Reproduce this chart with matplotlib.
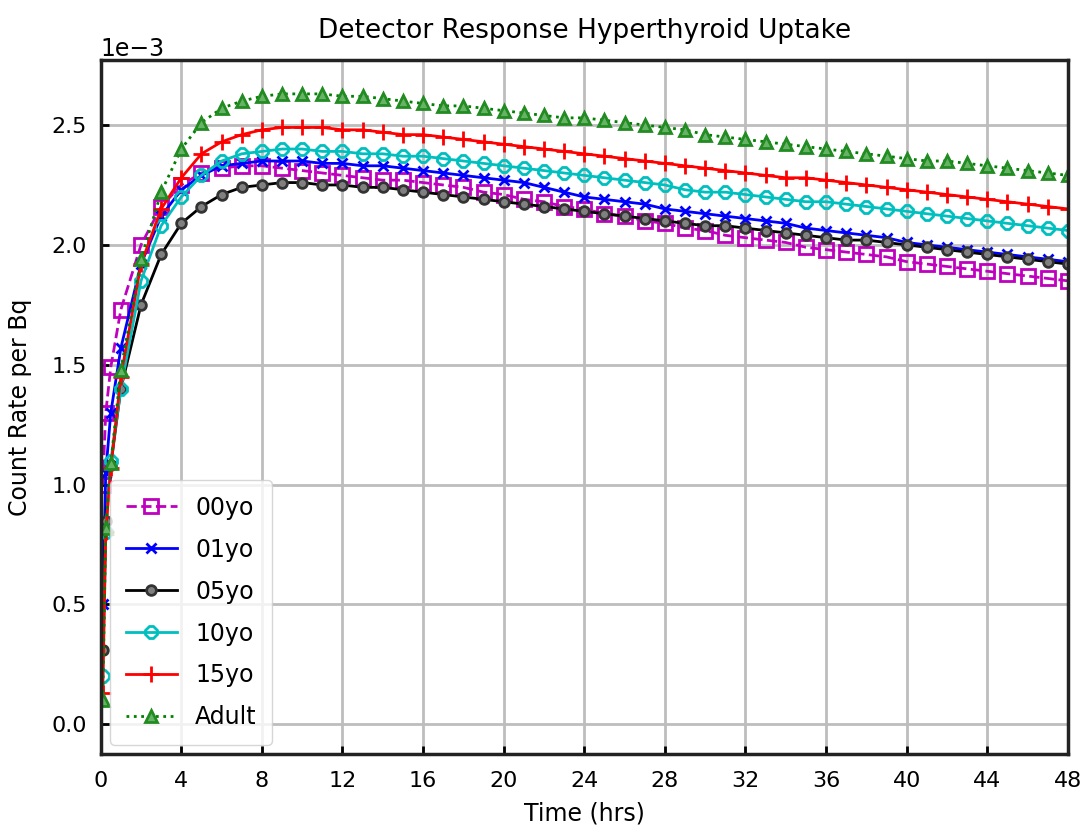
import numpy as np
import matplotlib
matplotlib.use("Agg")
import matplotlib.pyplot as plt

# sample times (hrs)
times = [0.1, 0.25, 0.5, 1] + list(range(2, 49))

# count rate per Bq (x1e-3) for each phantom age
yo00 = [1.00, 1.30, 1.49, 1.73,
        2.00, 2.16, 2.25, 2.30, 2.32, 2.33, 2.33, 2.32, 2.31, 2.30,
        2.29, 2.28, 2.27, 2.27, 2.26, 2.25, 2.24, 2.22, 2.21, 2.19,
        2.18, 2.16, 2.15, 2.13, 2.12, 2.10, 2.09, 2.07, 2.06, 2.04,
        2.03, 2.02, 2.01, 1.99, 1.98, 1.97, 1.96, 1.95, 1.93, 1.92,
        1.91, 1.90, 1.89, 1.88, 1.87, 1.86, 1.85]
yo01 = [0.50, 1.05, 1.30, 1.57,
        1.92, 2.12, 2.23, 2.29, 2.33, 2.34, 2.35, 2.35, 2.35, 2.34,
        2.34, 2.33, 2.33, 2.32, 2.31, 2.30, 2.29, 2.28, 2.27, 2.26,
        2.24, 2.22, 2.20, 2.19, 2.18, 2.17, 2.15, 2.14, 2.13, 2.12,
        2.11, 2.10, 2.09, 2.07, 2.06, 2.05, 2.04, 2.03, 2.01, 2.00,
        1.99, 1.98, 1.97, 1.96, 1.95, 1.94, 1.93]
yo05 = [0.31, 0.85, 1.08, 1.40,
        1.75, 1.96, 2.09, 2.16, 2.21, 2.24, 2.25, 2.26, 2.26, 2.25,
        2.25, 2.24, 2.24, 2.23, 2.22, 2.21, 2.20, 2.19, 2.18, 2.17,
        2.16, 2.15, 2.14, 2.13, 2.12, 2.11, 2.10, 2.09, 2.08, 2.08,
        2.07, 2.06, 2.05, 2.04, 2.03, 2.02, 2.02, 2.01, 2.00, 1.99,
        1.98, 1.97, 1.96, 1.95, 1.94, 1.93, 1.92]
yo10 = [0.20, 0.80, 1.10, 1.40,
        1.85, 2.08, 2.20, 2.29, 2.35, 2.38, 2.39, 2.40, 2.40, 2.39,
        2.39, 2.38, 2.38, 2.37, 2.37, 2.36, 2.35, 2.34, 2.33, 2.32,
        2.31, 2.30, 2.29, 2.28, 2.27, 2.26, 2.25, 2.23, 2.22, 2.22,
        2.21, 2.20, 2.19, 2.18, 2.18, 2.17, 2.16, 2.15, 2.14, 2.13,
        2.12, 2.11, 2.10, 2.09, 2.08, 2.07, 2.06]
yo15 = [0.13, 0.80, 1.07, 1.45,
        1.92, 2.15, 2.28, 2.38, 2.43, 2.46, 2.48, 2.49, 2.49, 2.49,
        2.48, 2.48, 2.47, 2.46, 2.46, 2.45, 2.44, 2.43, 2.42, 2.41,
        2.40, 2.39, 2.38, 2.37, 2.36, 2.35, 2.34, 2.33, 2.32, 2.31,
        2.30, 2.29, 2.28, 2.28, 2.27, 2.26, 2.25, 2.24, 2.23, 2.22,
        2.21, 2.20, 2.19, 2.18, 2.17, 2.16, 2.15]
adult = [0.10, 0.82, 1.09, 1.48,
         1.94, 2.22, 2.40, 2.51, 2.57, 2.60, 2.62, 2.63, 2.63, 2.63,
         2.62, 2.62, 2.61, 2.60, 2.59, 2.58, 2.58, 2.57, 2.56, 2.55,
         2.54, 2.53, 2.53, 2.52, 2.51, 2.50, 2.49, 2.48, 2.46, 2.45,
         2.44, 2.43, 2.42, 2.41, 2.40, 2.39, 2.38, 2.37, 2.36, 2.35,
         2.35, 2.34, 2.33, 2.32, 2.31, 2.30, 2.29]

t = np.array(times)
scale = 1e-3

fig, ax = plt.subplots(figsize=(10.83, 8.38), dpi=100)
fig.subplots_adjust(left=0.093, right=0.986, top=0.928, bottom=0.10)

ax.plot(t, np.array(yo00) * scale, 'm--', marker='s', mfc='none', mew=2, ms=10, lw=2, label='00yo')
ax.plot(t, np.array(yo01) * scale, 'b-', marker='x', mew=2, ms=7, lw=2, label='01yo')
ax.plot(t, np.array(yo05) * scale, 'k-', marker='o', mfc='gray', mec='#333333', mew=2, ms=7, lw=2, label='05yo')
ax.plot(t, np.array(yo10) * scale, 'c-', marker='8', mfc='none', mew=2, ms=9, lw=2, label='10yo')
ax.plot(t, np.array(yo15) * scale, 'r-', marker='+', mew=2, ms=11, lw=2, label='15yo')
ax.plot(t, np.array(adult) * scale, ':', color='green', marker='^', mfc='#66b366',
        mec='#228b22', mew=2, ms=8, lw=2, label='Adult')

ax.set_xlim(0, 48)
ax.set_ylim(-0.125e-3, 2.77e-3)
ax.set_xticks(np.arange(0, 49, 4))
ax.set_yticks(np.arange(0, 2.51e-3, 0.5e-3))
ax.ticklabel_format(axis='y', style='sci', scilimits=(-3, -3))
ax.yaxis.get_offset_text().set_fontsize(17)

ax.grid(True, color='#bdbdbd', lw=2)
ax.tick_params(direction='in', labelsize=16, width=2, length=6)
ax.tick_params(axis='x', pad=12)
ax.tick_params(axis='y', pad=10)
for s in ax.spines.values():
    s.set_linewidth(2.5)
    s.set_color('#222222')

ax.set_title('Detector Response Hyperthyroid Uptake', fontsize=19, pad=16)
ax.set_xlabel('Time (hrs)', fontsize=17, labelpad=8)
ax.set_ylabel('Count Rate per Bq', fontsize=17, labelpad=14)
ax.legend(loc='lower left', fontsize=17, handlelength=2.2, labelspacing=0.76,
          borderaxespad=0.4, borderpad=0.65, handletextpad=0.75)

fig.savefig('out.png', dpi=100)
